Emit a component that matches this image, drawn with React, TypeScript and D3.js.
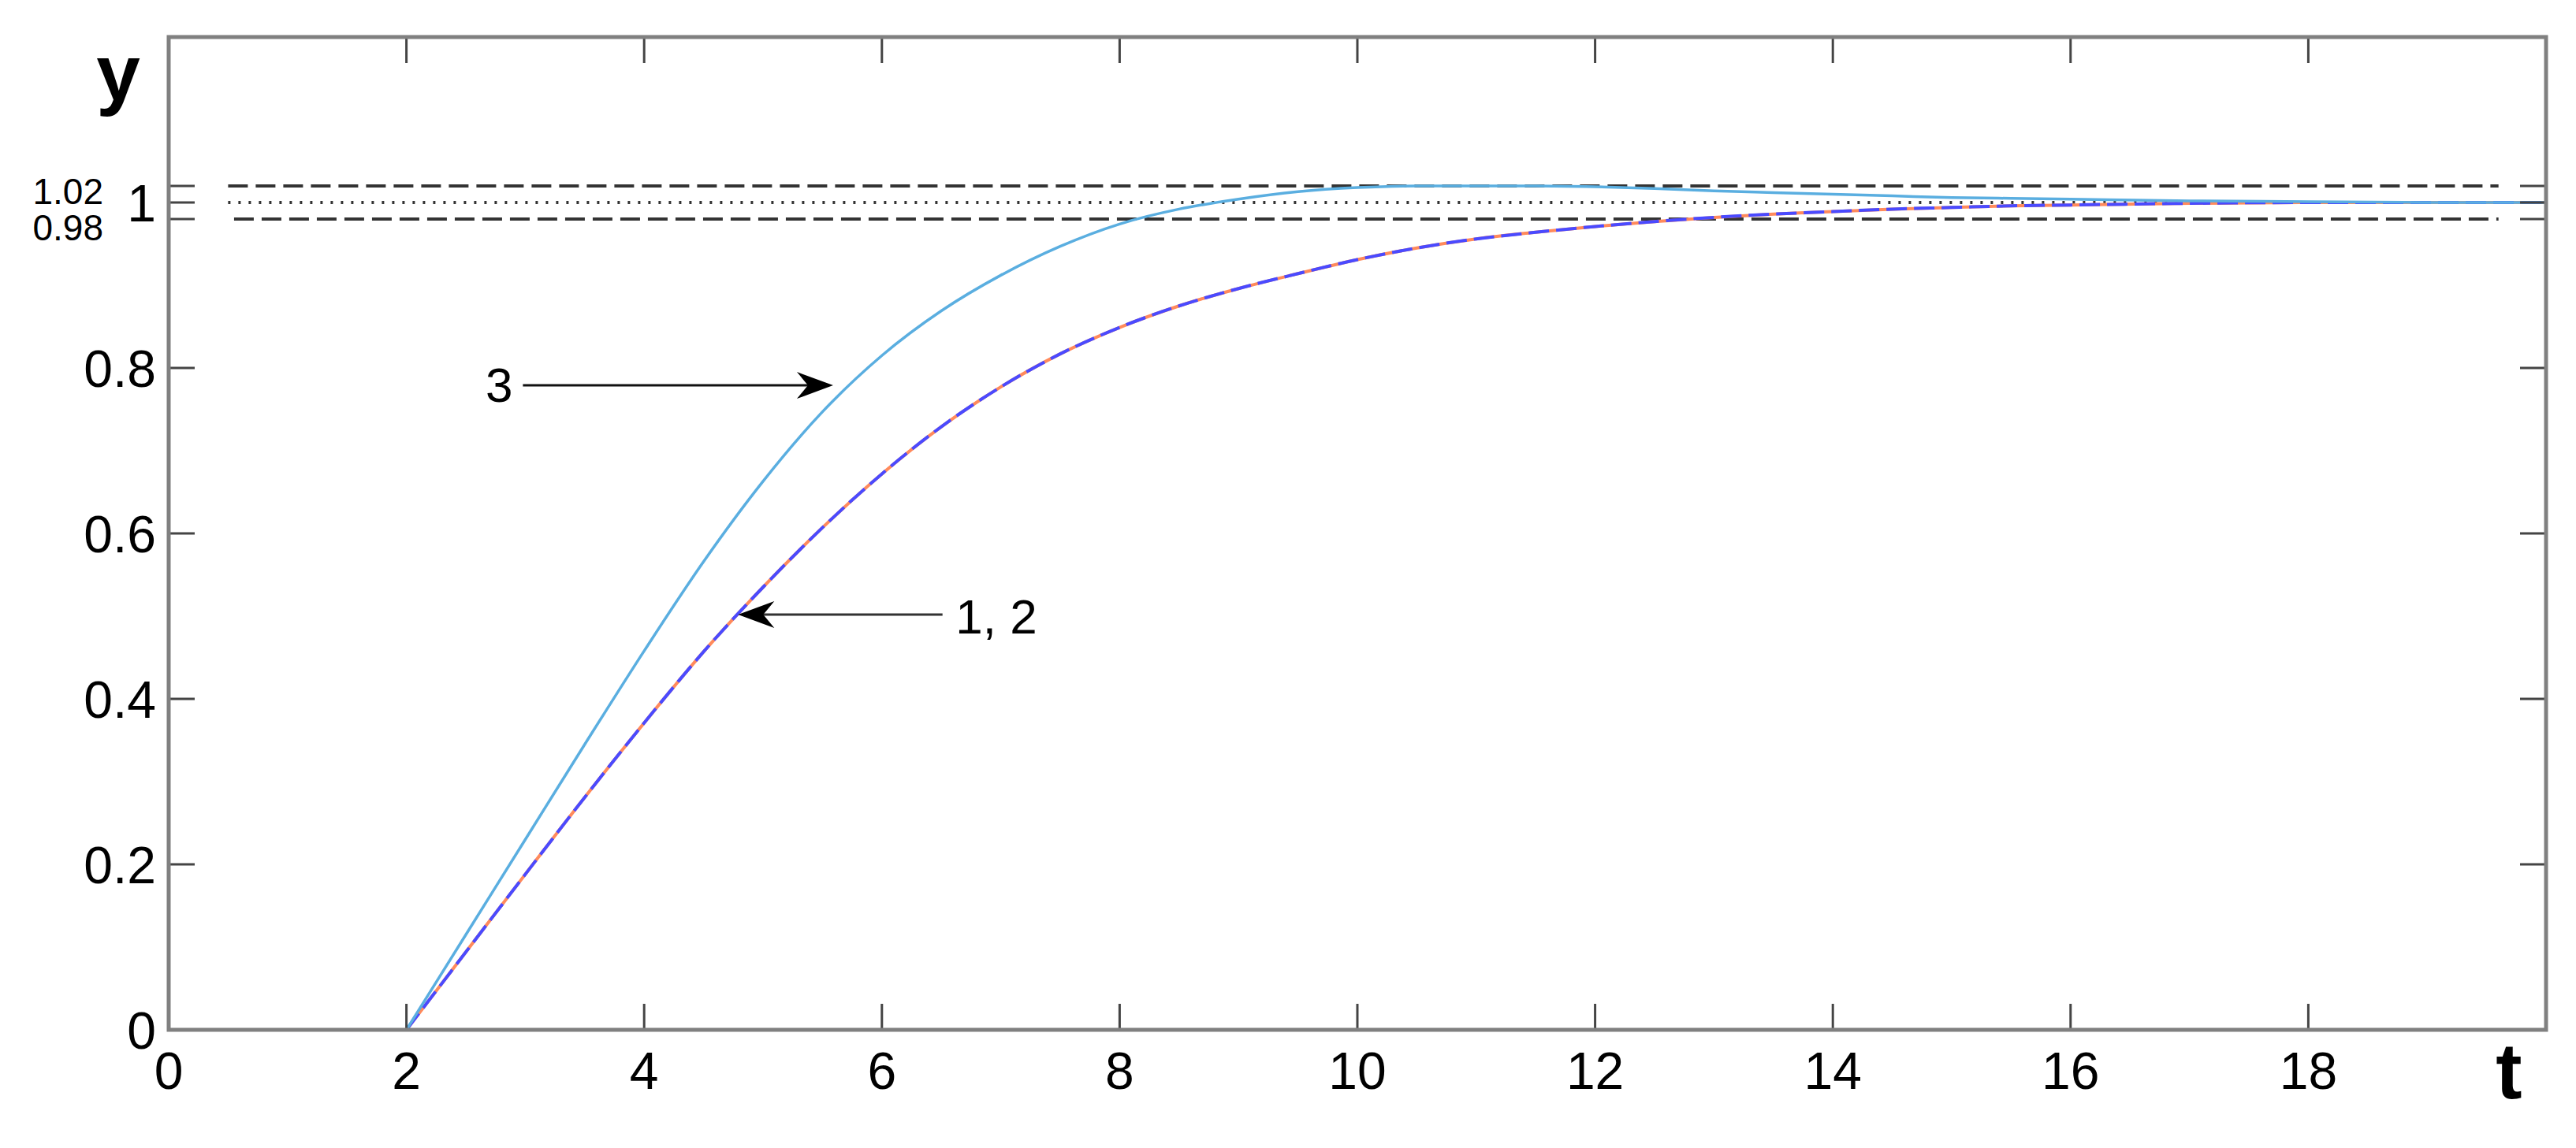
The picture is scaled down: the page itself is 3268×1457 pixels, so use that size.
import * as React from "react";
import { scaleLinear, line, curveMonotoneX } from "d3";

// time samples shared by both responses
const tValues = [2, 2.5, 3, 3.5, 4, 4.5, 5, 5.5, 6, 6.5, 7, 7.5, 8, 8.5, 9, 9.5, 10, 10.5, 11, 11.5, 12, 12.5, 13, 13.5, 14, 14.5, 15, 15.5, 16, 17, 18, 19, 20];

// curves 1 and 2 coincide
const curve12 = [0, 0.094, 0.188, 0.281, 0.371, 0.457, 0.535, 0.607, 0.672, 0.729, 0.777, 0.817, 0.849, 0.875, 0.896, 0.914, 0.931, 0.945, 0.956, 0.964, 0.971, 0.977, 0.982, 0.986, 0.989, 0.992, 0.994, 0.996, 0.997, 0.999, 1.0, 1.0, 1.0];
const curve3 = [0, 0.115, 0.23, 0.345, 0.458, 0.566, 0.663, 0.747, 0.815, 0.869, 0.912, 0.947, 0.974, 0.992, 1.004, 1.013, 1.018, 1.02, 1.02, 1.02, 1.019, 1.017, 1.014, 1.012, 1.01, 1.008, 1.006, 1.005, 1.004, 1.002, 1.001, 1.0, 1.0];

const xTicks = [0, 2, 4, 6, 8, 10, 12, 14, 16, 18];
const yTicks = [0, 0.2, 0.4, 0.6, 0.8, 1];
const bandTicks = [0.98, 1.02];
const bandLabels = ["0.98", "1.02"];

const W = 3268;
const H = 1457;
const left = 214, right = 3230, top = 47, bottom = 1307;
const font = "'Liberation Sans', Arial, sans-serif";

export default function App() {
  const x = scaleLinear().domain([0, 20]).range([left, right]);
  const y = scaleLinear().domain([0, 1.2]).range([bottom, top]);

  const path = line<number>()
    .x((d, i) => x(tValues[i]))
    .y((d) => y(d))
    .curve(curveMonotoneX);

  const tickLen = 33;
  const allY = [...yTicks, ...bandTicks];

  const arrowHead = (tipX: number, tipY: number, dir: number) => {
    const L = 46, hw = 17, notch = 32;
    return `M${tipX},${tipY} L${tipX - dir * L},${tipY - hw} L${tipX - dir * notch},${tipY} L${tipX - dir * L},${tipY + hw} Z`;
  };

  return (
    <svg
      width={W}
      height={H}
      style={{ position: "absolute", left: 0, top: 0, background: "#fff", fontFamily: font }}
    >
      <rect x={0} y={0} width={W} height={H} fill="#fff" />

      {/* reference band */}
      <line x1={x(0.5)} x2={x(19.6)} y1={y(1.02)} y2={y(1.02)} stroke="#333" strokeWidth={4} strokeDasharray="25 10" />
      <line x1={x(0.55)} x2={x(19.6)} y1={y(0.98)} y2={y(0.98)} stroke="#333" strokeWidth={4} strokeDasharray="25 10" />
      <line x1={x(0.5)} x2={x(19.6)} y1={y(1)} y2={y(1)} stroke="#333" strokeWidth={4} strokeDasharray="3 10" />

      {/* responses */}
      <path d={path(curve12) || ""} fill="none" stroke="#ff8a5c" strokeWidth={4} />
      <path d={path(curve12) || ""} fill="none" stroke="#4a4aff" strokeWidth={4} strokeDasharray="26 9" />
      <path d={path(curve3) || ""} fill="none" stroke="#5aaee0" strokeWidth={3.5} />

      {/* ticks */}
      {xTicks.concat([20]).map((t) => (
        <g key={"xt" + t} stroke="#444" strokeWidth={3}>
          <line x1={x(t)} x2={x(t)} y1={bottom} y2={bottom - tickLen} />
          <line x1={x(t)} x2={x(t)} y1={top} y2={top + tickLen} />
        </g>
      ))}
      {allY.map((v) => (
        <g key={"yt" + v} stroke="#444" strokeWidth={3}>
          <line x1={left} x2={left + tickLen} y1={y(v)} y2={y(v)} />
          <line x1={right} x2={right - tickLen} y1={y(v)} y2={y(v)} />
        </g>
      ))}

      {/* frame */}
      <rect x={left} y={top} width={right - left} height={bottom - top} fill="none" stroke="#808080" strokeWidth={5} />

      {/* tick labels */}
      {xTicks.map((t) => (
        <text key={"xl" + t} x={x(t)} y={bottom + 75} fontSize={66} textAnchor="middle" fill="#000">
          {t}
        </text>
      ))}
      {yTicks.map((v) => (
        <text key={"yl" + v} x={left - 16} y={y(v)} dy="0.36em" fontSize={66} textAnchor="end" fill="#000">
          {v}
        </text>
      ))}
      {bandTicks.map((v, i) => (
        <text key={"bl" + v} x={131} y={y(v) + (v > 1 ? 6 : 10)} dy="0.36em" fontSize={46} textAnchor="end" fill="#000">
          {bandLabels[i]}
        </text>
      ))}

      {/* axis names */}
      <text x={150} y={127} fontSize={100} fontWeight="bold" textAnchor="middle" fill="#000">y</text>
      <text x={3183} y={1394} fontSize={100} fontWeight="bold" textAnchor="middle" fill="#000">t</text>

      {/* annotations */}
      <text x={x(2.78)} y={y(0.78)} dy="0.36em" fontSize={62} textAnchor="middle" fill="#000">3</text>
      <line x1={x(2.98)} x2={x(5.59) - 30} y1={y(0.779)} y2={y(0.779)} stroke="#111" strokeWidth={3} />
      <path d={arrowHead(x(5.59), y(0.779), 1)} fill="#000" />

      <text x={x(6.62)} y={y(0.5)} dy="0.36em" fontSize={62} textAnchor="start" fill="#000">1, 2</text>
      <line x1={x(6.51)} x2={x(4.79) + 30} y1={y(0.502)} y2={y(0.502)} stroke="#333" strokeWidth={3} />
      <path d={arrowHead(x(4.79), y(0.502), -1)} fill="#000" />
    </svg>
  );
}
